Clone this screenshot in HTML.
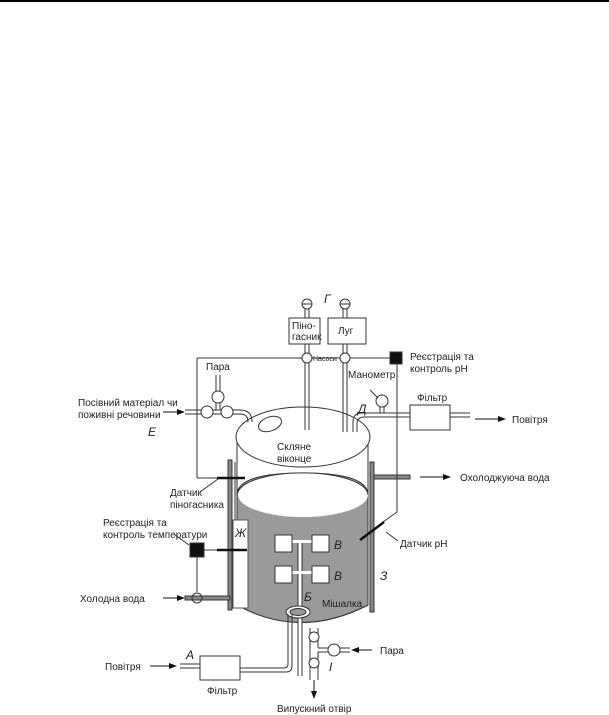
<!DOCTYPE html>
<html><head><meta charset="utf-8"><style>
html,body{margin:0;padding:0;background:#fff;}
svg{display:block;}
text{font-family:"Liberation Sans",sans-serif;font-size:10px;fill:#222;}
.it{font-style:italic;font-size:12px;}
</style></head><body>
<svg width="609" height="715" viewBox="0 0 609 715" xmlns="http://www.w3.org/2000/svg">
<defs><marker id="a" markerWidth="8" markerHeight="8" refX="7" refY="4" orient="auto" markerUnits="userSpaceOnUse"><path d="M0,1 L8,4 L0,7 z" fill="#111"/></marker></defs>
<line x1="0" y1="1" x2="609" y2="1" stroke="#000" stroke-width="2"/>
<g stroke="#333" stroke-width="1" fill="none">
<path d="M237,437 L237,605 Q300,640 368,605 L368,437" fill="#fff"/>
<path d="M237,495 Q237,473 303,473 Q368,473 368,495 L368,605 Q300,640 237,605 Z" fill="#9a9a9a"/>
<ellipse cx="303" cy="495" rx="65" ry="22" fill="#fff" stroke="none"/>
<path d="M237,495 A65,22 0 0 1 368,495" fill="none"/>
<rect x="233" y="520" width="15" height="88" fill="#fff" stroke="#555"/>
<ellipse cx="303" cy="437" rx="67" ry="30" fill="#fff"/>
<ellipse cx="270" cy="424" rx="12" ry="7" transform="rotate(-20 270 424)"/>
<rect x="228" y="460" width="4" height="150" fill="#888"/>
<rect x="370" y="462" width="4" height="150" fill="#888"/>
<rect x="374" y="475" width="36" height="4" fill="#888"/>
<rect x="185" y="596" width="45" height="4" fill="#888"/>
<line x1="420" y1="477" x2="450" y2="477" stroke="#111" marker-end="url(#a)"/>
<circle cx="307" cy="304" r="5"/><line x1="302" y1="304" x2="312" y2="304"/>
<circle cx="345" cy="304" r="5"/><line x1="340" y1="304" x2="350" y2="304"/>
<rect x="289" y="318" width="31" height="26" fill="#fff"/>
<rect x="328" y="318" width="38" height="26" fill="#fff"/>
<line x1="305" y1="309" x2="305" y2="318"/><line x1="309" y1="309" x2="309" y2="318"/>
<line x1="343" y1="309" x2="343" y2="318"/><line x1="347" y1="309" x2="347" y2="318"/>
<line x1="305" y1="344" x2="305" y2="430"/><line x1="309" y1="344" x2="309" y2="430"/>
<line x1="343" y1="344" x2="343" y2="432"/><line x1="347" y1="344" x2="347" y2="432"/>
<line x1="197" y1="358" x2="390" y2="358"/>
<circle cx="307" cy="358" r="5" fill="#fff"/><circle cx="345" cy="358" r="5" fill="#fff"/>
<rect x="390" y="352" width="12" height="12" fill="#111"/>
<line x1="197" y1="358" x2="197" y2="478"/><line x1="197" y1="478" x2="217" y2="478"/>
<line x1="217" y1="478" x2="245" y2="478" stroke="#111" stroke-width="2.5"/>
<line x1="200" y1="492" x2="218" y2="479"/>
<line x1="235" y1="462" x2="235" y2="520"/>
<line x1="216" y1="375" x2="216" y2="410"/><line x1="220" y1="375" x2="220" y2="410"/>
<circle cx="218" cy="397" r="6" fill="#fff"/>
<path d="M185,410 L240,410 Q252,410 252,422"/>
<path d="M185,414 L240,414 Q248,414 248,422"/>
<circle cx="207" cy="412" r="6" fill="#fff"/><circle cx="227" cy="412" r="6" fill="#fff"/>
<line x1="163" y1="412" x2="184" y2="412" stroke="#111" marker-end="url(#a)"/>
<path d="M353,432 L353,422 Q353,413 362,413 L410,413"/>
<path d="M357,432 L357,424 Q357,417 364,417 L410,417"/>
<circle cx="382" cy="401" r="6" fill="#fff"/><line x1="380" y1="407" x2="380" y2="413"/><line x1="384" y1="407" x2="384" y2="413"/>
<line x1="370" y1="390" x2="378" y2="398"/>
<rect x="410" y="405" width="40" height="25" fill="#fff"/>
<line x1="450" y1="413" x2="470" y2="413"/><line x1="450" y1="417" x2="470" y2="417"/>
<line x1="475" y1="419" x2="505" y2="419" stroke="#111" marker-end="url(#a)"/>
<line x1="397" y1="364" x2="397" y2="512"/><line x1="397" y1="512" x2="383" y2="522"/>
<line x1="360" y1="540" x2="384" y2="522" stroke="#111" stroke-width="2.5"/>
<line x1="386" y1="532" x2="398" y2="541"/>
<rect x="190" y="543" width="14" height="14" fill="#111"/>
<line x1="204" y1="550" x2="217" y2="550"/>
<line x1="217" y1="550" x2="247" y2="550" stroke="#111" stroke-width="2.5"/>
<line x1="197" y1="557" x2="197" y2="592"/>
<line x1="175" y1="535" x2="189" y2="545"/>
<circle cx="197" cy="598" r="5"/>
<line x1="163" y1="598" x2="184" y2="598" stroke="#111" marker-end="url(#a)"/>
<line x1="300" y1="540" x2="300" y2="676" stroke="#fff" stroke-width="3"/>
<line x1="298" y1="540" x2="298" y2="676"/><line x1="302" y1="540" x2="302" y2="676"/>
<rect x="291" y="540" width="22" height="3" fill="#fff" stroke="none"/>
<rect x="291" y="571" width="22" height="3" fill="#fff" stroke="none"/>
<rect x="275" y="535" width="17" height="17" fill="#fff"/><rect x="312" y="535" width="17" height="17" fill="#fff"/>
<rect x="275" y="566" width="17" height="17" fill="#fff"/><rect x="312" y="566" width="17" height="17" fill="#fff"/>
<ellipse cx="298" cy="612" rx="12" ry="6" fill="#fff"/><ellipse cx="298" cy="612" rx="8" ry="3.5" fill="#999"/>
<path d="M288,614 L288,664 Q288,668 284,668 L240,668"/>
<path d="M292,614 L292,666 Q292,672 286,672 L240,672"/>
<rect x="200" y="656" width="40" height="24" fill="#fff"/>
<line x1="180" y1="664" x2="200" y2="664"/><line x1="180" y1="668" x2="200" y2="668"/>
<line x1="150" y1="666" x2="176" y2="666" stroke="#111" marker-end="url(#a)"/>
<line x1="310" y1="628" x2="310" y2="680"/><line x1="318" y1="628" x2="318" y2="648"/><line x1="318" y1="652" x2="318" y2="680"/>
<line x1="318" y1="648" x2="350" y2="648"/><line x1="318" y1="652" x2="350" y2="652"/>
<circle cx="314" cy="637" r="5" fill="#fff"/><circle cx="314" cy="663" r="5" fill="#fff"/><circle cx="334" cy="650" r="6" fill="#fff"/>
<line x1="372" y1="650" x2="352" y2="650" stroke="#111" marker-end="url(#a)"/>
<line x1="314" y1="680" x2="314" y2="698" stroke="#111" marker-end="url(#a)"/>
</g>
<text x="324" y="303" class="it">Г</text>
<text x="292" y="329">Піно-</text><text x="292" y="340">гасник</text>
<text x="338" y="334">Луг</text>
<text x="313" y="361" style="font-size:7px">Насоси</text>
<text x="410" y="360">Реєстрація та</text><text x="410" y="372">контроль pH</text>
<text x="348" y="378">Манометр</text>
<text x="358" y="413" class="it">Д</text>
<text x="417" y="401">Фільтр</text>
<text x="512" y="423">Повітря</text>
<text x="206" y="370">Пара</text>
<text x="78" y="406">Посівний матеріал чи</text><text x="78" y="418">поживні речовини</text>
<text x="148" y="436" class="it">Е</text>
<text x="277" y="450">Скляне</text><text x="277" y="462">віконце</text>
<text x="460" y="481">Охолоджуюча вода</text>
<text x="170" y="496">Датчик</text><text x="170" y="508">піногасника</text>
<text x="103" y="526">Реєстрація та</text><text x="103" y="538">контроль температури</text>
<text x="235" y="537" class="it">Ж</text>
<text x="400" y="547">Датчик pH</text>
<text x="334" y="549" class="it">В</text><text x="334" y="580" class="it">В</text>
<text x="380" y="580" class="it">З</text>
<text x="304" y="601" class="it">Б</text>
<text x="322" y="607">Мішалка</text>
<text x="80" y="602">Холодна вода</text>
<text x="186" y="659" class="it">А</text>
<text x="105" y="670">Повітря</text>
<text x="207" y="694">Фільтр</text>
<text x="380" y="654">Пара</text>
<text x="329" y="671" class="it">I</text>
<text x="277" y="712">Випускний отвір</text>
</svg>
</body></html>
